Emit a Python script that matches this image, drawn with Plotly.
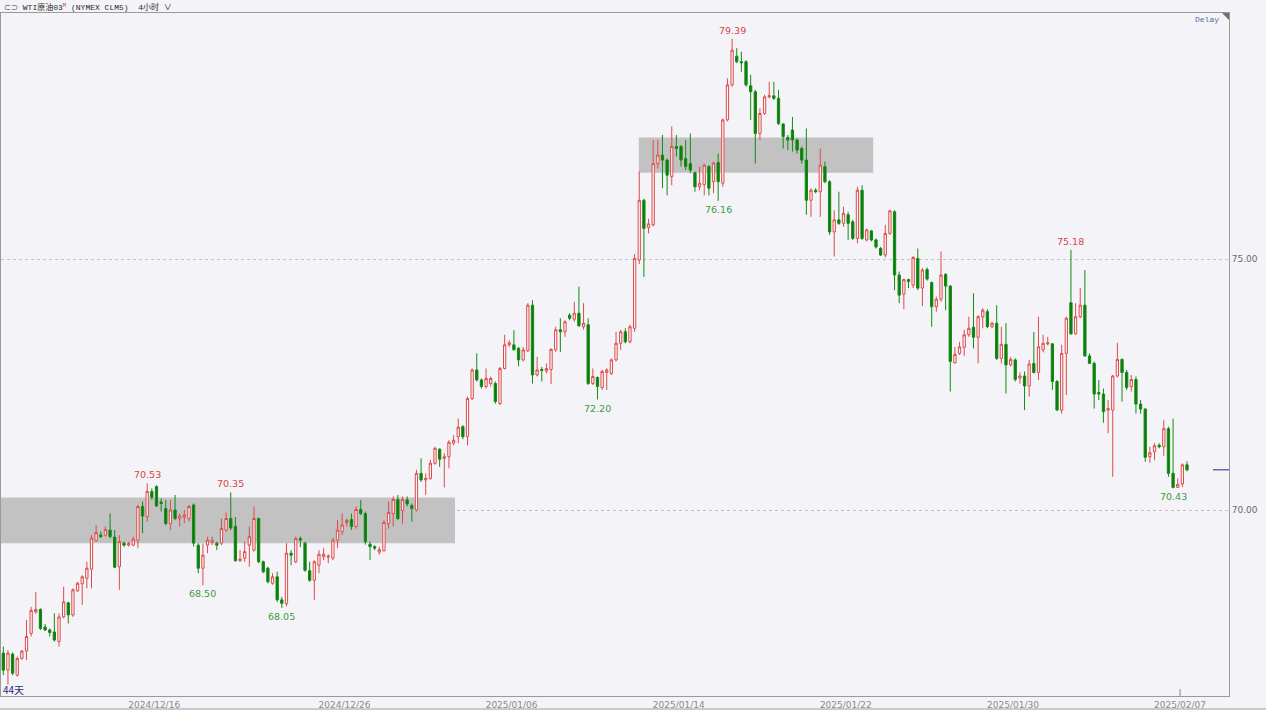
import plotly.graph_objects as go

# ---------------- data (4-hour bars, WTI crude) ----------------
opens = [
67.15,66.81,67.13,66.71,67.04,67.19,67.54,67.97,68.02,67.67,
67.61,67.57,67.38,67.87,68.15,67.91,68.39,68.53,68.64,68.82,
69.39,69.50,69.50,69.60,69.46,68.87,69.34,69.30,69.30,69.40,
70.07,69.87,70.37,70.47,70.16,70.03,69.73,70.00,69.83,69.86,
69.83,70.10,69.30,68.84,69.30,69.35,69.34,69.34,69.60,69.83,
69.67,68.99,69.04,69.30,69.20,69.83,68.97,68.84,68.54,68.67,
68.21,68.13,69.14,68.97,69.43,69.34,68.79,68.60,68.90,69.07,
69.06,69.04,69.40,69.57,69.75,69.81,69.67,70.01,69.93,69.32,
69.27,69.16,69.19,69.73,69.93,70.21,69.99,70.20,70.09,70.00,
70.73,70.60,70.63,70.93,71.21,71.03,71.06,71.33,71.46,71.66,
71.46,72.22,72.79,72.59,72.46,72.52,72.52,72.12,72.82,73.29,
73.29,73.22,72.99,73.17,74.08,72.69,72.80,72.77,72.80,73.19,
73.59,73.55,73.88,73.80,73.92,73.65,73.69,72.52,72.64,72.44,
72.74,72.72,72.99,73.32,73.55,73.35,73.62,74.98,76.17,75.63,
75.68,76.90,77.07,76.97,76.64,77.24,77.24,77.00,76.90,76.72,
76.44,76.48,76.84,76.54,76.92,76.51,77.77,78.47,79.04,78.93,
78.93,78.45,78.33,77.50,77.90,78.23,78.25,78.20,77.69,77.42,
77.57,77.37,77.20,76.97,76.17,76.37,76.34,76.84,76.54,75.54,
75.78,75.71,75.88,75.74,75.41,76.37,75.38,75.56,75.38,75.21,
75.08,75.51,75.94,74.68,74.30,74.59,74.48,75.01,74.42,74.79,
74.53,74.05,74.20,74.69,74.46,72.93,73.12,73.24,73.49,73.64,
73.44,73.85,73.95,73.65,73.72,73.02,73.30,72.89,72.99,72.63,
72.67,72.47,72.92,72.74,73.19,73.31,73.31,72.56,71.99,73.12,
74.13,73.51,73.85,74.08,73.07,72.92,72.34,72.31,71.99,71.99,
72.67,73.00,72.74,72.46,72.60,72.11,72.01,71.06,71.16,71.29,
71.26,71.62,70.73,70.45,70.52,70.90]
highs = [
67.28,67.21,67.16,67.08,67.21,67.81,68.07,68.37,68.04,67.73,
67.64,67.94,67.94,68.47,68.17,68.44,68.57,68.70,68.97,69.50,
69.70,69.57,69.67,69.93,69.60,69.50,69.37,69.37,69.47,70.10,
70.17,70.53,70.43,70.49,70.23,70.20,70.20,70.30,69.93,70.00,
70.10,70.13,69.34,69.33,69.47,69.47,69.37,69.83,69.95,70.35,
69.86,69.20,69.37,69.67,70.07,69.85,68.99,68.87,68.74,68.77,
68.27,69.34,69.20,69.47,69.47,69.37,68.97,69.00,69.20,69.24,
69.12,69.45,69.80,69.93,69.83,69.93,70.07,70.20,69.97,69.37,
69.30,69.27,69.80,70.17,70.27,70.30,70.27,70.27,70.13,70.80,
71.03,70.73,71.00,71.26,71.23,71.13,71.39,71.49,71.82,71.69,
72.26,72.82,73.12,72.62,72.82,72.66,72.56,72.85,73.49,73.38,
73.58,73.25,73.25,74.12,74.18,73.05,72.85,72.92,73.22,73.65,
73.82,73.78,73.92,74.15,74.45,74.12,73.82,72.82,72.66,72.79,
72.82,73.02,73.55,73.59,73.62,73.69,75.10,76.74,76.20,75.80,
77.37,77.37,77.47,77.00,77.64,77.47,77.27,77.37,77.50,76.74,
76.84,76.90,76.87,76.94,77.10,77.80,78.60,79.39,79.20,79.13,
78.96,78.67,78.37,78.00,78.27,78.53,78.53,78.37,77.70,77.47,
77.83,77.40,77.24,77.60,76.41,76.41,77.20,76.94,76.57,75.97,
76.34,76.04,75.94,75.78,76.44,76.47,75.61,75.58,75.41,75.24,
75.68,75.97,75.97,74.75,74.61,74.61,75.06,75.21,74.82,74.83,
74.55,74.25,75.15,74.72,74.48,73.25,73.35,73.59,73.85,74.32,
73.88,74.02,74.00,73.75,74.08,73.65,73.72,73.05,73.02,72.74,
72.76,72.99,73.55,73.85,73.49,73.45,73.32,72.59,73.29,73.85,
75.18,74.12,74.42,74.78,73.12,72.96,72.59,72.42,72.19,72.69,
73.33,73.02,72.79,72.69,72.66,72.19,72.03,71.26,71.33,71.33,
71.79,71.66,71.82,70.63,70.93,70.97]
lows = [
66.71,66.52,66.71,66.68,67.02,67.01,67.48,67.93,67.61,67.59,
67.48,67.38,67.28,67.84,67.74,67.87,68.37,68.11,68.44,68.44,
69.37,69.44,69.47,69.44,68.84,68.41,69.27,69.27,69.28,69.24,
69.54,69.77,70.20,70.06,69.97,69.70,69.60,69.80,69.67,69.74,
69.77,69.27,68.74,68.50,69.14,69.30,69.20,69.30,69.57,69.60,
68.97,68.97,68.97,68.87,69.17,68.94,68.74,68.54,68.51,68.17,
68.05,68.08,68.90,68.94,69.26,68.77,68.57,68.21,68.74,69.00,
68.94,69.00,69.24,69.50,69.67,69.60,69.63,69.90,69.31,69.00,
69.20,69.11,69.17,69.63,69.67,69.80,69.73,70.07,69.77,69.97,
70.56,70.30,70.60,70.90,70.86,70.45,70.83,71.29,71.33,71.41,
71.29,72.19,72.56,72.42,72.42,72.46,72.12,72.09,72.80,73.25,
73.19,72.86,72.96,73.15,72.52,72.66,72.56,72.72,72.51,73.15,
73.15,73.45,73.78,73.75,73.65,73.59,72.49,72.49,72.20,72.39,
72.39,72.69,72.96,73.19,73.32,73.32,73.55,74.90,74.64,75.51,
75.65,76.80,76.41,76.27,76.47,77.04,76.84,76.77,76.71,76.34,
76.37,76.27,76.27,76.31,76.16,76.44,77.74,78.43,78.90,78.73,
78.43,77.77,76.90,77.37,77.87,78.20,78.17,77.67,77.20,77.17,
77.14,77.10,76.90,75.88,75.84,76.31,75.84,76.51,75.48,75.05,
75.68,75.64,75.38,75.38,75.31,75.38,75.35,75.35,75.21,75.06,
75.03,75.48,74.38,74.12,74.00,74.42,74.42,74.38,74.06,74.57,
73.65,73.95,74.15,73.98,72.36,72.92,73.09,73.07,73.45,73.22,
72.92,73.62,73.62,73.62,72.99,72.92,72.32,72.86,72.56,72.52,
71.99,72.26,72.72,72.59,73.14,73.28,72.39,71.98,71.92,72.29,
73.49,73.49,73.82,73.05,72.91,72.02,72.19,71.74,71.53,70.66,
72.64,72.16,72.39,72.36,71.92,71.92,70.96,70.94,70.99,71.23,
71.08,70.66,70.43,70.44,70.46,70.77]
closes = [
66.81,67.15,66.75,67.04,67.19,67.48,68.00,68.02,67.64,67.61,
67.56,67.41,67.87,68.17,67.91,68.41,68.54,68.67,68.84,69.44,
69.55,69.47,69.61,69.47,68.86,69.37,69.30,69.33,69.42,70.07,
69.88,70.37,70.25,70.08,70.13,69.73,70.00,69.83,69.88,69.90,
70.07,69.34,68.84,69.10,69.40,69.40,69.30,69.63,69.83,69.64,
68.99,69.02,69.17,69.47,69.83,68.97,68.77,68.57,68.67,68.21,
68.14,69.14,69.10,69.43,69.40,68.80,68.60,68.97,69.12,69.12,
69.08,69.40,69.60,69.70,69.79,69.67,70.01,69.93,69.37,69.27,
69.24,69.21,69.75,69.95,70.21,69.83,70.21,70.12,70.03,70.73,
70.60,70.63,70.93,71.23,71.01,71.06,71.35,71.39,71.65,71.46,
72.22,72.79,72.59,72.46,72.62,72.62,72.16,72.82,73.29,73.33,
73.19,72.99,73.19,74.08,72.69,72.79,72.78,72.82,73.20,73.59,
73.55,73.75,73.82,73.92,73.67,73.72,72.52,72.66,72.46,72.76,
72.79,72.99,73.32,73.55,73.35,73.65,75.01,76.17,75.61,75.70,
76.90,77.07,76.97,76.67,77.24,77.20,76.97,76.84,76.77,76.44,
76.51,76.87,76.41,76.91,76.54,77.77,78.47,79.16,78.93,78.91,
78.47,78.33,77.50,77.90,78.23,78.25,78.20,77.70,77.44,77.37,
77.37,77.17,76.97,76.17,76.37,76.34,76.87,76.54,75.54,75.78,
75.71,75.91,75.71,75.41,76.37,75.41,75.58,75.38,75.24,75.08,
75.51,75.96,74.68,74.28,74.59,74.55,75.03,74.42,74.78,74.60,
74.05,74.20,74.68,74.46,72.96,73.10,73.25,73.49,73.62,73.44,
73.85,73.98,73.65,73.72,73.02,73.30,72.89,73.00,72.60,72.67,
72.47,72.91,72.74,73.25,73.32,73.33,72.56,71.99,73.12,73.82,
73.51,73.85,74.08,73.07,72.92,72.31,72.31,71.96,72.02,72.67,
73.00,72.74,72.44,72.60,72.11,72.01,71.05,71.14,71.28,71.26,
71.62,70.73,70.45,70.51,70.90,70.80]

tick_labels = ["2024/12/16", "2024/12/26", "2025/01/06", "2025/01/14",
               "2025/01/22", "2025/01/30", "2025/02/07"]
tick_bars = [32, 73, 109, 145, 181, 217, 253]

y_ticks = [70.0, 75.0]

marked_highs = [70.53, 70.35, 79.39, 75.18]
marked_lows = [68.50, 68.05, 72.20, 76.16, 70.43]

# consolidation zones: (first bar, last bar) and (low, high)
zone_bars = [(-1, 97.3), (136.9, 187.4)]
zone_prices = [(69.34, 70.25), (76.72, 77.42)]

# ---------------- figure ----------------
BG = "#f4f4f8"
UP = "#dd4a4a"
DOWN = "#138a13"

n = len(closes)
xs = list(range(n))

fig = go.Figure()
fig.add_trace(go.Candlestick(
    x=xs, open=opens, high=highs, low=lows, close=closes,
    increasing=dict(line=dict(color=UP, width=1), fillcolor="#fbf7f8"),
    decreasing=dict(line=dict(color=DOWN, width=1), fillcolor="#0a7a0a"),
    whiskerwidth=0, hoverinfo="skip", showlegend=False,
))

for (b0, b1), (p0, p1) in zip(zone_bars, zone_prices):
    fig.add_shape(type="rect", xref="x", yref="y", x0=b0, x1=b1, y0=p0, y1=p1,
                  fillcolor="#c2c2c2", line=dict(width=0), layer="below")

ann_font = dict(family="DejaVu Sans", size=9.5)
for v in marked_highs:
    i = highs.index(v)
    fig.add_annotation(x=i, y=v, text=f"{v:.2f}", showarrow=False,
                       yanchor="bottom", yshift=1,
                       font=dict(color="#d24548", **ann_font))
for v in marked_lows:
    i = lows.index(v)
    fig.add_annotation(x=i, y=v, text=f"{v:.2f}", showarrow=False,
                       yanchor="top", yshift=-1,
                       font=dict(color="#3f9a3f", **ann_font))

# plot box geometry (pixels) used to place decorations in paper coords
W, H = 1266, 710
ML, MR, MT, MB = 1, 37, 13, 14
PW, PH = W - ML - MR, H - MT - MB
def px(xp):
    return (xp - ML) / PW
def py(yp):
    return (H - MB - yp) / PH

# last price marker at right edge
fig.add_shape(type="line", xref="paper", yref="y", x0=px(1213), x1=1.0,
              y0=closes[-1], y1=closes[-1], line=dict(color="#1c2a80", width=1))
# small tick at last date label
fig.add_shape(type="line", xref="x", yref="paper",
              x0=tick_bars[-1] + 0.5, x1=tick_bars[-1] + 0.5, y0=0, y1=py(689),
              line=dict(color="#888888", width=1))
# bottom border of the window
fig.add_shape(type="line", xref="paper", yref="paper", x0=px(0), x1=px(W),
              y0=py(709), y1=py(709), line=dict(color="#a0a0a0", width=1))
# corner triangle
fig.add_shape(type="path", xref="paper", yref="paper",
              path=f"M {px(1222)} {py(13)} L {px(1229)} {py(13)} L {px(1229)} {py(20)} Z",
              fillcolor="#707070", line=dict(width=0))

# header
fig.add_annotation(xref="paper", yref="paper", x=px(2), y=py(6.5),
                   xanchor="left", yanchor="middle", showarrow=False,
                   text="<span style='font-size:7px'>⊂⊃</span> WTI原油03"
                        "<sup><span style='color:#e03030'>M</span></sup> (NYMEX CLM5)  4小时 ∨",
                   font=dict(family="Liberation Mono, Noto Sans CJK SC", size=8, color="#2a2a2a"))
fig.add_annotation(xref="paper", yref="paper", x=px(1221), y=py(20),
                   xanchor="right", yanchor="middle", showarrow=False,
                   text="Delay",
                   font=dict(family="Liberation Mono", size=8, color="#5a6aa0"))
fig.add_annotation(xref="paper", yref="paper", x=px(1), y=py(689),
                   xanchor="left", yanchor="middle", showarrow=False,
                   text="44天",
                   font=dict(family="Noto Sans CJK SC", size=10, color="#1f2a78"))

ymin = 75 - (H - MB - 259) / 50.2
ymax = 75 + (259 - MT) / 50.2
xmin = (ML - 3.3) / 4.642
xmax = (W - MR - 3.3) / 4.642

fig.update_layout(
    width=W, height=H,
    margin=dict(l=ML, r=MR, t=MT, b=MB, pad=0),
    paper_bgcolor=BG, plot_bgcolor=BG,
    showlegend=False,
    hovermode=False,
    xaxis=dict(
        range=[xmin, xmax], rangeslider=dict(visible=False),
        tickmode="array", tickvals=[b + 0.5 for b in tick_bars], ticktext=tick_labels,
        showgrid=False, zeroline=False, ticks="",
        showline=True, mirror=True, linecolor="#9a9a9a", linewidth=1,
        tickfont=dict(family="DejaVu Sans", size=9, color="#8a8a8a"),
        fixedrange=True,
    ),
    yaxis=dict(
        range=[ymin, ymax], side="right",
        tickmode="array", tickvals=y_ticks, ticktext=[f"{v:.2f}" for v in y_ticks],
        showgrid=True, gridcolor="#c4c4c4", griddash="dot", gridwidth=1,
        zeroline=False, ticks="",
        showline=True, mirror=True, linecolor="#9a9a9a", linewidth=1,
        tickfont=dict(family="DejaVu Sans", size=9, color="#6a6a6a"),
        fixedrange=True,
    ),
)

page_js = ("document.body.style.margin='0';"
           "document.body.style.background='" + BG + "';"
           "document.body.style.overflow='hidden';")
fig.write_html("out.html", post_script=page_js, config={"displayModeBar": False})
